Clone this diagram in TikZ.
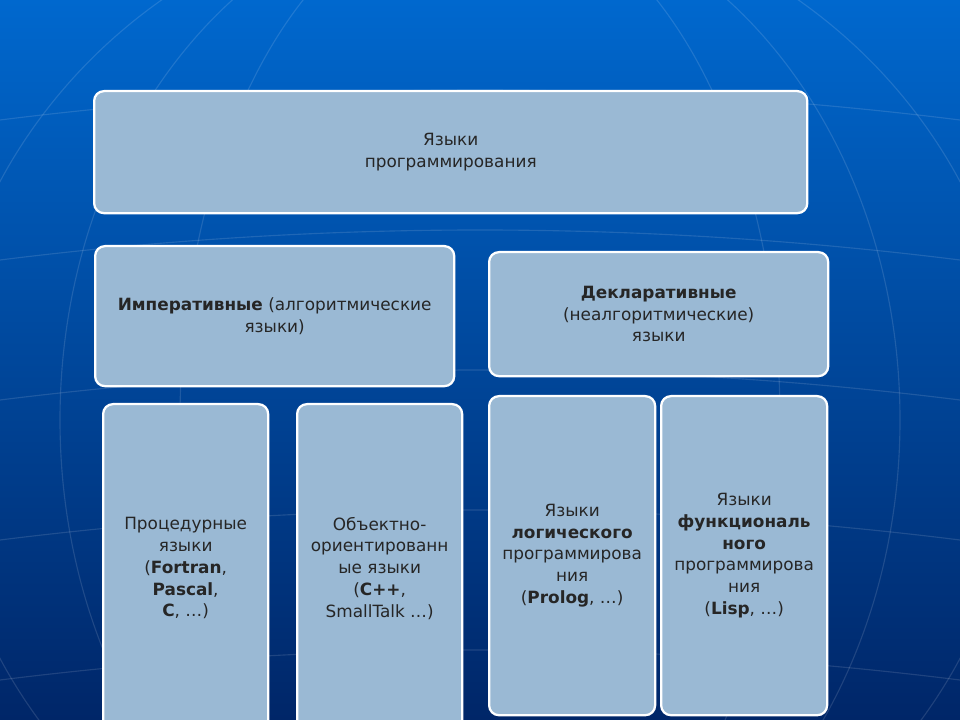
\documentclass[tikz,border=0pt]{standalone}
\usepackage{fontspec}
\setmainfont{DejaVu Sans}
\usetikzlibrary{positioning}
\definecolor{bgtop}{RGB}{0,104,206}
\definecolor{bgbot}{RGB}{0,38,104}
\definecolor{boxfill}{RGB}{154,185,212}

\tikzset{
  block/.style={draw=white, line width=1.6pt, fill=boxfill, rounded corners=7pt,
    anchor=north west, align=center, font=\fontsize{12}{15.5}\selectfont, text=black!85}
}

\begin{document}
\begin{tikzpicture}[x=0.025cm,y=-0.025cm]
	\useasboundingbox (0,0) rectangle (960,720);
	\shade[top color=bgtop, bottom color=bgbot] (0,0) rectangle (960,720);
	% faint globe lines
	\begin{scope}[draw=white, opacity=0.12, line width=0.8pt]
		\clip (0,0) rectangle (960,720);
		\foreach \r in {300,420,540}
			\draw (480,420) ellipse ({\r} and 520);
		\foreach \yy in {120,260,400,540,680}
			\draw (0,\yy) .. controls (320,\yy-40) and (640,\yy-40) .. (960,\yy);
	\end{scope}

	\node[block, minimum width=17.825cm, minimum height=3.05cm] (lang) at (93,90)
		{Языки\\программирования};
	\node[block, minimum width=8.975cm, minimum height=3.5cm] (imp) at (94,245)
		{\textbf{Императивные} (алгоритмические\\языки)};
	\node[block, minimum width=8.475cm, minimum height=3.1cm] (decl) at (488,251)
		{\textbf{Декларативные}\\(неалгоритмические)\\языки};
	\node[block, minimum width=4.125cm, minimum height=8.2cm] (proc) at (102,403)
		{Процедурные\\языки\\(\textbf{Fortran},\\\textbf{Pascal},\\\textbf{C}, …)};
	\node[block, minimum width=4.125cm, minimum height=8.2cm] (oop) at (296,403)
		{Объектно-\\ориентированн\\ые языки\\(\textbf{C++},\\SmallTalk …)};
	\node[block, minimum width=4.15cm, minimum height=7.975cm] (logic) at (488,395)
		{Языки\\\textbf{логического}\\программирова\\ния\\(\textbf{Prolog}, …)};
	\node[block, minimum width=4.15cm, minimum height=7.975cm] (func) at (660,395)
		{Языки\\\textbf{функциональ}\\\textbf{ного}\\программирова\\ния\\(\textbf{Lisp}, …)};
\end{tikzpicture}
\end{document}
